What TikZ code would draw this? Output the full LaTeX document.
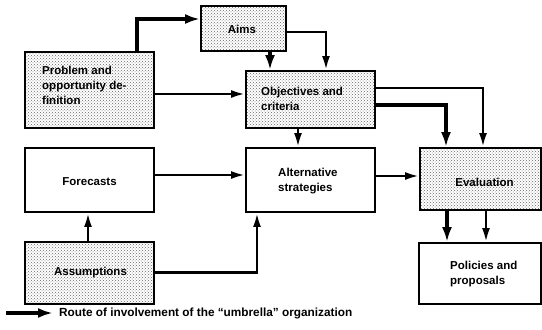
\documentclass[tikz,border=0pt]{standalone}
\usepackage{fontspec}
\setmainfont{Liberation Sans}
\usetikzlibrary{patterns,arrows.meta}

\tikzset{
  box/.style={draw, line width=1.9pt, fill=white, inner sep=0pt},
  shaded/.style={box, pattern=crosshatch dots, pattern color=black!60},
  lbl/.style={font=\bfseries\fontsize{11.5}{15}\selectfont, align=left, inner sep=0pt},
  link/.style={line width=2.4pt, -{Latex[length=14pt,width=8pt]}},
  route/.style={line width=4.6pt, -{Latex[length=15pt,width=10pt]}},
}

\begin{document}
\begin{tikzpicture}[x=1pt, y=-1pt]
\useasboundingbox (0,0) rectangle (542,330);

% boxes
\node[shaded, minimum width=129pt, minimum height=76pt] (prob) at (89.5,90) {};
\node[shaded, minimum width=85pt,  minimum height=45pt] (aims) at (243.5,28.5) {};
\node[shaded, minimum width=129pt, minimum height=57pt] (obj)  at (310.5,99.5) {};
\node[box,    minimum width=129pt, minimum height=64pt] (fore) at (89.5,180) {};
\node[box,    minimum width=129pt, minimum height=64pt] (alt)  at (310.5,180) {};
\node[shaded, minimum width=129pt, minimum height=62pt] (assm) at (89.5,273) {};
\node[shaded, minimum width=121pt, minimum height=62pt] (eval) at (480.5,179) {};
\node[box,    minimum width=122pt, minimum height=61pt] (pol)  at (480,273.5) {};

% box texts
\node[lbl, anchor=west] (probtxt) at (42,85) {Problem and\\opportunity de-\\finition};
\node[lbl] (aimstxt) at (242,29) {Aims};
\node[lbl, anchor=west] (objtxt) at (261,99) {Objectives and\\criteria};
\node[lbl] (foretxt) at (89.5,182) {Forecasts};
\node[lbl, anchor=west] (alttxt) at (278,181.5) {Alternative\\strategies};
\node[lbl] (assmtxt) at (90.5,273) {Assumptions};
\node[lbl] (evaltxt) at (484.5,182) {Evaluation};
\node[lbl, anchor=west] (poltxt) at (450,274.5) {Policies and\\proposals};

% routes of the umbrella organization
\draw[route] ([xshift=47.5pt]prob.north) |- ([yshift=9.5pt]aims.west);
\draw[route] ([xshift=26.5pt]aims.south) -- ([xshift=26.5pt]aims.south |- obj.north);
\draw[route] ([yshift=-5.5pt]obj.east) -| ([xshift=-34.5pt]eval.north);
\draw[route] ([xshift=-33.5pt]eval.south) -- ([xshift=-33.5pt]eval.south |- pol.north);

% ordinary links
\draw[link] ([yshift=-3.5pt]aims.east) -| ([xshift=15.5pt]obj.north);
\draw[link] ([yshift=-4pt]prob.east) -- ([yshift=-4pt]prob.east -| obj.west);
\draw[link] ([xshift=-12.5pt]obj.south) -- ([xshift=-12.5pt]obj.south |- alt.north);
\draw[link] ([yshift=11.5pt]obj.east) -| ([xshift=2.5pt]eval.north);
\draw[link] ([yshift=5pt]fore.east) -- ([yshift=5pt]fore.east -| alt.west);
\draw[link] ([yshift=4pt]alt.east) -- ([yshift=4pt]alt.east -| eval.west);
\draw[link] ([xshift=-1.5pt]assm.north) -- ([xshift=-1.5pt]assm.north |- fore.south);
\draw[link] ([yshift=0.5pt]assm.east) -| ([xshift=-53.5pt]alt.south);
\draw[link] ([xshift=5.5pt]eval.south) -- ([xshift=5.5pt]eval.south |- pol.north);

% legend
\coordinate (legA) at (6,313);
\coordinate (legB) at (53,313);
\draw[route] (legA) -- (legB);
\node[lbl, font=\bfseries\fontsize{11.8}{14}\selectfont, anchor=west] (legtxt) at (59,313.5)
  {Route of involvement of the “umbrella” organization};
\end{tikzpicture}
\end{document}
